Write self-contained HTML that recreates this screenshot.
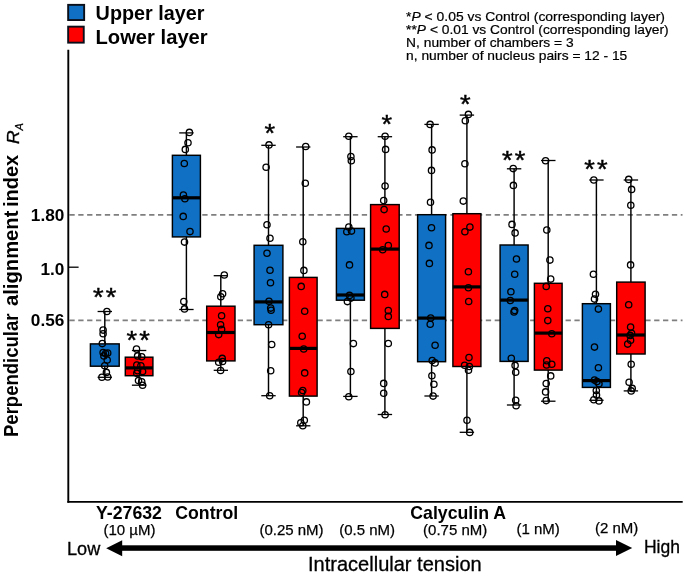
<!DOCTYPE html>
<html><head><meta charset="utf-8"><title>chart</title>
<style>
html,body{margin:0;padding:0;background:#fff;}
body{width:685px;height:578px;overflow:hidden;font-family:"Liberation Sans",sans-serif;}
svg{display:block;will-change:transform;}
text{font-family:"Liberation Sans",sans-serif;fill:#000;}
.b{font-weight:bold;}
</style></head><body>
<svg width="685" height="578" viewBox="0 0 685 578">
<rect width="685" height="578" fill="#fff"/>

<g stroke="#7f7f7f" stroke-width="1.7" stroke-dasharray="5.3 3.56" fill="none">
<line x1="69.4" y1="214.9" x2="682.5" y2="214.9"/>
<line x1="69.4" y1="320.3" x2="682.5" y2="320.3"/>
</g>
<g stroke="#000" stroke-width="1.5" fill="none">
<line x1="68.3" y1="49.8" x2="68.3" y2="502.8" stroke-width="1.9"/>
<line x1="67.4" y1="501.85" x2="682.7" y2="501.85" stroke-width="1.9"/>
<line x1="68" y1="267.2" x2="78.6" y2="267.2" stroke-width="1.3"/>
</g>
<g stroke="#000" stroke-width="1.45" fill="none">
<line x1="104.8" y1="311.5" x2="104.8" y2="343.9"/>
<line x1="104.8" y1="366.2" x2="104.8" y2="377.3"/>
<line x1="97.6" y1="311.5" x2="112.0" y2="311.5" stroke-width="1.3"/>
<line x1="97.6" y1="377.3" x2="112.0" y2="377.3" stroke-width="1.3"/>
<rect x="90.4" y="343.9" width="28.8" height="22.3" fill="#0F70C4"/>
</g>
<g stroke="#000" stroke-width="1.45" fill="none">
<line x1="139.1" y1="350.5" x2="139.1" y2="357.2"/>
<line x1="139.1" y1="375.7" x2="139.1" y2="385.2"/>
<line x1="131.9" y1="350.5" x2="146.3" y2="350.5" stroke-width="1.3"/>
<line x1="131.9" y1="385.2" x2="146.3" y2="385.2" stroke-width="1.3"/>
<rect x="125.3" y="357.2" width="27.6" height="18.5" fill="#FF0000"/>
<line x1="125.3" y1="367.9" x2="152.9" y2="367.9" stroke-width="3.2"/>
</g>
<g stroke="#000" stroke-width="1.45" fill="none">
<line x1="186.4" y1="132.9" x2="186.4" y2="155.3"/>
<line x1="186.4" y1="236.9" x2="186.4" y2="309.5"/>
<line x1="179.2" y1="132.9" x2="193.6" y2="132.9" stroke-width="1.3"/>
<line x1="179.2" y1="309.5" x2="193.6" y2="309.5" stroke-width="1.3"/>
<rect x="172.4" y="155.3" width="28.0" height="81.6" fill="#0F70C4"/>
<line x1="172.4" y1="197.8" x2="200.4" y2="197.8" stroke-width="3.2"/>
</g>
<g stroke="#000" stroke-width="1.45" fill="none">
<line x1="220.8" y1="275.7" x2="220.8" y2="306.2"/>
<line x1="220.8" y1="360.9" x2="220.8" y2="370.3"/>
<line x1="213.7" y1="275.7" x2="228.0" y2="275.7" stroke-width="1.3"/>
<line x1="213.7" y1="370.3" x2="228.0" y2="370.3" stroke-width="1.3"/>
<rect x="206.7" y="306.2" width="28.3" height="54.7" fill="#FF0000"/>
<line x1="206.7" y1="332.5" x2="235.0" y2="332.5" stroke-width="3.2"/>
</g>
<g stroke="#000" stroke-width="1.45" fill="none">
<line x1="268.5" y1="145.3" x2="268.5" y2="245.3"/>
<line x1="268.5" y1="324.7" x2="268.5" y2="395.7"/>
<line x1="261.3" y1="145.3" x2="275.7" y2="145.3" stroke-width="1.3"/>
<line x1="261.3" y1="395.7" x2="275.7" y2="395.7" stroke-width="1.3"/>
<rect x="254.1" y="245.3" width="28.8" height="79.4" fill="#0F70C4"/>
<line x1="254.1" y1="301.9" x2="282.9" y2="301.9" stroke-width="3.2"/>
</g>
<g stroke="#000" stroke-width="1.45" fill="none">
<line x1="303.2" y1="147.0" x2="303.2" y2="277.4"/>
<line x1="303.2" y1="396.1" x2="303.2" y2="425.8"/>
<line x1="296.1" y1="147.0" x2="310.4" y2="147.0" stroke-width="1.3"/>
<line x1="296.1" y1="425.8" x2="310.4" y2="425.8" stroke-width="1.3"/>
<rect x="289.4" y="277.4" width="27.7" height="118.7" fill="#FF0000"/>
<line x1="289.4" y1="348.4" x2="317.1" y2="348.4" stroke-width="3.2"/>
</g>
<g stroke="#000" stroke-width="1.45" fill="none">
<line x1="350.4" y1="136.7" x2="350.4" y2="228.4"/>
<line x1="350.4" y1="300.2" x2="350.4" y2="396.4"/>
<line x1="343.2" y1="136.7" x2="357.6" y2="136.7" stroke-width="1.3"/>
<line x1="343.2" y1="396.4" x2="357.6" y2="396.4" stroke-width="1.3"/>
<rect x="336.4" y="228.4" width="28.0" height="71.8" fill="#0F70C4"/>
<line x1="336.4" y1="295.0" x2="364.4" y2="295.0" stroke-width="3.2"/>
</g>
<g stroke="#000" stroke-width="1.45" fill="none">
<line x1="384.9" y1="136.7" x2="384.9" y2="204.6"/>
<line x1="384.9" y1="328.4" x2="384.9" y2="414.5"/>
<line x1="377.7" y1="136.7" x2="392.1" y2="136.7" stroke-width="1.3"/>
<line x1="377.7" y1="414.5" x2="392.1" y2="414.5" stroke-width="1.3"/>
<rect x="370.6" y="204.6" width="28.6" height="123.8" fill="#FF0000"/>
<line x1="370.6" y1="249.1" x2="399.2" y2="249.1" stroke-width="3.2"/>
</g>
<g stroke="#000" stroke-width="1.45" fill="none">
<line x1="431.6" y1="124.4" x2="431.6" y2="214.7"/>
<line x1="431.6" y1="361.7" x2="431.6" y2="396.0"/>
<line x1="424.4" y1="124.4" x2="438.8" y2="124.4" stroke-width="1.3"/>
<line x1="424.4" y1="396.0" x2="438.8" y2="396.0" stroke-width="1.3"/>
<rect x="417.6" y="214.7" width="28.0" height="147.0" fill="#0F70C4"/>
<line x1="417.6" y1="318.1" x2="445.6" y2="318.1" stroke-width="3.2"/>
</g>
<g stroke="#000" stroke-width="1.45" fill="none">
<line x1="466.9" y1="115.1" x2="466.9" y2="213.7"/>
<line x1="466.9" y1="366.5" x2="466.9" y2="432.3"/>
<line x1="459.7" y1="115.1" x2="474.1" y2="115.1" stroke-width="1.3"/>
<line x1="459.7" y1="432.3" x2="474.1" y2="432.3" stroke-width="1.3"/>
<rect x="452.9" y="213.7" width="28.0" height="152.8" fill="#FF0000"/>
<line x1="452.9" y1="286.9" x2="480.9" y2="286.9" stroke-width="3.2"/>
</g>
<g stroke="#000" stroke-width="1.45" fill="none">
<line x1="514.1" y1="168.8" x2="514.1" y2="245.0"/>
<line x1="514.1" y1="361.4" x2="514.1" y2="405.0"/>
<line x1="506.9" y1="168.8" x2="521.3" y2="168.8" stroke-width="1.3"/>
<line x1="506.9" y1="405.0" x2="521.3" y2="405.0" stroke-width="1.3"/>
<rect x="500.1" y="245.0" width="28.0" height="116.4" fill="#0F70C4"/>
<line x1="500.1" y1="300.1" x2="528.1" y2="300.1" stroke-width="3.2"/>
</g>
<g stroke="#000" stroke-width="1.45" fill="none">
<line x1="548.2" y1="160.5" x2="548.2" y2="283.3"/>
<line x1="548.2" y1="370.1" x2="548.2" y2="401.2"/>
<line x1="541.0" y1="160.5" x2="555.5" y2="160.5" stroke-width="1.3"/>
<line x1="541.0" y1="401.2" x2="555.5" y2="401.2" stroke-width="1.3"/>
<rect x="534.4" y="283.3" width="27.7" height="86.8" fill="#FF0000"/>
<line x1="534.4" y1="333.1" x2="562.1" y2="333.1" stroke-width="3.2"/>
</g>
<g stroke="#000" stroke-width="1.45" fill="none">
<line x1="596.4" y1="180.0" x2="596.4" y2="303.7"/>
<line x1="596.4" y1="387.4" x2="596.4" y2="400.3"/>
<line x1="589.2" y1="180.0" x2="603.6" y2="180.0" stroke-width="1.3"/>
<line x1="589.2" y1="400.3" x2="603.6" y2="400.3" stroke-width="1.3"/>
<rect x="582.4" y="303.7" width="28.0" height="83.7" fill="#0F70C4"/>
<line x1="582.4" y1="380.6" x2="610.4" y2="380.6" stroke-width="3.2"/>
</g>
<g stroke="#000" stroke-width="1.45" fill="none">
<line x1="630.9" y1="180.0" x2="630.9" y2="282.1"/>
<line x1="630.9" y1="354.0" x2="630.9" y2="390.9"/>
<line x1="623.7" y1="180.0" x2="638.1" y2="180.0" stroke-width="1.3"/>
<line x1="623.7" y1="390.9" x2="638.1" y2="390.9" stroke-width="1.3"/>
<rect x="616.7" y="282.1" width="28.4" height="71.9" fill="#FF0000"/>
<line x1="616.7" y1="335.0" x2="645.1" y2="335.0" stroke-width="3.2"/>
</g>
<g stroke="#000" stroke-width="1.3" fill="none">
<circle cx="106.9" cy="311.5" r="3.15"/>
<circle cx="103.1" cy="330.1" r="3.15"/>
<circle cx="103.1" cy="333.7" r="3.15"/>
<circle cx="102.3" cy="343.6" r="3.15"/>
<circle cx="103.1" cy="352.6" r="3.15"/>
<circle cx="105.6" cy="353.5" r="3.15"/>
<circle cx="103.9" cy="355.9" r="3.15"/>
<circle cx="107.7" cy="353" r="3.15"/>
<circle cx="107.2" cy="360" r="3.15"/>
<circle cx="104.7" cy="365.8" r="3.15"/>
<circle cx="106.4" cy="372.4" r="3.15"/>
<circle cx="101.9" cy="377.3" r="3.15"/>
<circle cx="107.7" cy="377" r="3.15"/>
<circle cx="136.5" cy="349" r="3.15"/>
<circle cx="137.6" cy="355.9" r="3.15"/>
<circle cx="141.7" cy="356.7" r="3.15"/>
<circle cx="136.8" cy="365" r="3.15"/>
<circle cx="140.9" cy="365.8" r="3.15"/>
<circle cx="137.6" cy="370.7" r="3.15"/>
<circle cx="142.6" cy="371.5" r="3.15"/>
<circle cx="136.8" cy="373.2" r="3.15"/>
<circle cx="138.5" cy="380.6" r="3.15"/>
<circle cx="141.7" cy="381.7" r="3.15"/>
<circle cx="142.6" cy="385.2" r="3.15"/>
<circle cx="189.4" cy="132.4" r="3.15"/>
<circle cx="188" cy="142.8" r="3.15"/>
<circle cx="185.3" cy="149.4" r="3.15"/>
<circle cx="184.3" cy="163.5" r="3.15"/>
<circle cx="183.4" cy="195" r="3.15"/>
<circle cx="184.9" cy="198.8" r="3.15"/>
<circle cx="183.2" cy="216.4" r="3.15"/>
<circle cx="190" cy="231.6" r="3.15"/>
<circle cx="184.5" cy="242.1" r="3.15"/>
<circle cx="183.8" cy="301.6" r="3.15"/>
<circle cx="184.5" cy="308.9" r="3.15"/>
<circle cx="224.3" cy="275" r="3.15"/>
<circle cx="222.6" cy="293.7" r="3.15"/>
<circle cx="220.8" cy="296.8" r="3.15"/>
<circle cx="221.6" cy="315.7" r="3.15"/>
<circle cx="220.6" cy="324.8" r="3.15"/>
<circle cx="221.6" cy="329.4" r="3.15"/>
<circle cx="218.7" cy="334.6" r="3.15"/>
<circle cx="222.2" cy="358.4" r="3.15"/>
<circle cx="218.7" cy="362.2" r="3.15"/>
<circle cx="222.6" cy="361.5" r="3.15"/>
<circle cx="220.6" cy="370.5" r="3.15"/>
<circle cx="269" cy="144.9" r="3.15"/>
<circle cx="266.1" cy="167.3" r="3.15"/>
<circle cx="267" cy="224.7" r="3.15"/>
<circle cx="270" cy="238.2" r="3.15"/>
<circle cx="267" cy="253.2" r="3.15"/>
<circle cx="270" cy="270.2" r="3.15"/>
<circle cx="270.5" cy="282.8" r="3.15"/>
<circle cx="269" cy="301.3" r="3.15"/>
<circle cx="270.7" cy="308.1" r="3.15"/>
<circle cx="271.1" cy="310.2" r="3.15"/>
<circle cx="268.6" cy="324.7" r="3.15"/>
<circle cx="271.7" cy="344.5" r="3.15"/>
<circle cx="270.7" cy="370.8" r="3.15"/>
<circle cx="269.7" cy="395.7" r="3.15"/>
<circle cx="305.7" cy="146.5" r="3.15"/>
<circle cx="305.3" cy="183.3" r="3.15"/>
<circle cx="302.8" cy="241.8" r="3.15"/>
<circle cx="303.9" cy="270.4" r="3.15"/>
<circle cx="301.2" cy="286.4" r="3.15"/>
<circle cx="304.7" cy="311.2" r="3.15"/>
<circle cx="302.2" cy="336.2" r="3.15"/>
<circle cx="303.7" cy="349" r="3.15"/>
<circle cx="304.7" cy="372.9" r="3.15"/>
<circle cx="302.8" cy="390.5" r="3.15"/>
<circle cx="301.6" cy="392.6" r="3.15"/>
<circle cx="306.4" cy="401.9" r="3.15"/>
<circle cx="304.3" cy="420.2" r="3.15"/>
<circle cx="300.8" cy="422.7" r="3.15"/>
<circle cx="302.8" cy="425.8" r="3.15"/>
<circle cx="348.8" cy="136.3" r="3.15"/>
<circle cx="350.9" cy="156.6" r="3.15"/>
<circle cx="351.3" cy="160.8" r="3.15"/>
<circle cx="348.8" cy="227" r="3.15"/>
<circle cx="346.8" cy="231.7" r="3.15"/>
<circle cx="351.5" cy="231.1" r="3.15"/>
<circle cx="349.5" cy="264.9" r="3.15"/>
<circle cx="349.5" cy="295.4" r="3.15"/>
<circle cx="350.9" cy="298.1" r="3.15"/>
<circle cx="347.4" cy="301.6" r="3.15"/>
<circle cx="353.4" cy="343.6" r="3.15"/>
<circle cx="350.9" cy="371.5" r="3.15"/>
<circle cx="348.8" cy="396.8" r="3.15"/>
<circle cx="385.1" cy="136.3" r="3.15"/>
<circle cx="385.6" cy="149.4" r="3.15"/>
<circle cx="385.1" cy="186.1" r="3.15"/>
<circle cx="383.7" cy="200.6" r="3.15"/>
<circle cx="384.1" cy="209.6" r="3.15"/>
<circle cx="386.2" cy="229" r="3.15"/>
<circle cx="388.3" cy="245.6" r="3.15"/>
<circle cx="382.7" cy="249.8" r="3.15"/>
<circle cx="384.7" cy="294.4" r="3.15"/>
<circle cx="388.3" cy="310.6" r="3.15"/>
<circle cx="388.3" cy="316.4" r="3.15"/>
<circle cx="388.3" cy="343.5" r="3.15"/>
<circle cx="383.7" cy="383.4" r="3.15"/>
<circle cx="383.7" cy="393.3" r="3.15"/>
<circle cx="385.1" cy="414.7" r="3.15"/>
<circle cx="430.1" cy="124.4" r="3.15"/>
<circle cx="432.1" cy="149.9" r="3.15"/>
<circle cx="431.5" cy="170.4" r="3.15"/>
<circle cx="430.5" cy="202.2" r="3.15"/>
<circle cx="431.5" cy="227.8" r="3.15"/>
<circle cx="429" cy="245.4" r="3.15"/>
<circle cx="429.4" cy="263.4" r="3.15"/>
<circle cx="430.7" cy="318.1" r="3.15"/>
<circle cx="430.2" cy="324.2" r="3.15"/>
<circle cx="435.1" cy="345.2" r="3.15"/>
<circle cx="432.2" cy="360.5" r="3.15"/>
<circle cx="435.1" cy="362.9" r="3.15"/>
<circle cx="431.9" cy="375.7" r="3.15"/>
<circle cx="433.9" cy="384.2" r="3.15"/>
<circle cx="433.1" cy="396.1" r="3.15"/>
<circle cx="468.4" cy="114.4" r="3.15"/>
<circle cx="465.3" cy="120.7" r="3.15"/>
<circle cx="464.9" cy="163.8" r="3.15"/>
<circle cx="463.3" cy="201.1" r="3.15"/>
<circle cx="469.9" cy="227.1" r="3.15"/>
<circle cx="464.9" cy="231.7" r="3.15"/>
<circle cx="468.4" cy="271.7" r="3.15"/>
<circle cx="468.4" cy="287.7" r="3.15"/>
<circle cx="468.7" cy="301.5" r="3.15"/>
<circle cx="469" cy="357.6" r="3.15"/>
<circle cx="464.6" cy="365.3" r="3.15"/>
<circle cx="469.4" cy="366.5" r="3.15"/>
<circle cx="468.5" cy="370.2" r="3.15"/>
<circle cx="467" cy="420.3" r="3.15"/>
<circle cx="469.7" cy="432.4" r="3.15"/>
<circle cx="513.2" cy="168.6" r="3.15"/>
<circle cx="513.4" cy="185.4" r="3.15"/>
<circle cx="512" cy="224.4" r="3.15"/>
<circle cx="515.1" cy="232.9" r="3.15"/>
<circle cx="516.5" cy="259" r="3.15"/>
<circle cx="514.7" cy="274.2" r="3.15"/>
<circle cx="510.9" cy="291.8" r="3.15"/>
<circle cx="510.3" cy="300.5" r="3.15"/>
<circle cx="514.7" cy="310.5" r="3.15"/>
<circle cx="514" cy="311.9" r="3.15"/>
<circle cx="511.3" cy="358.3" r="3.15"/>
<circle cx="515.1" cy="365.4" r="3.15"/>
<circle cx="515.7" cy="372.2" r="3.15"/>
<circle cx="515.7" cy="400.2" r="3.15"/>
<circle cx="516.1" cy="405.8" r="3.15"/>
<circle cx="545.6" cy="160.7" r="3.15"/>
<circle cx="546.8" cy="230" r="3.15"/>
<circle cx="549.9" cy="260.1" r="3.15"/>
<circle cx="550.7" cy="279.1" r="3.15"/>
<circle cx="546.2" cy="286.4" r="3.15"/>
<circle cx="547.8" cy="308.8" r="3.15"/>
<circle cx="547.8" cy="320.6" r="3.15"/>
<circle cx="551.8" cy="333.7" r="3.15"/>
<circle cx="546.8" cy="360.8" r="3.15"/>
<circle cx="551.8" cy="364.3" r="3.15"/>
<circle cx="546.6" cy="365" r="3.15"/>
<circle cx="550.7" cy="375.9" r="3.15"/>
<circle cx="546.2" cy="383.6" r="3.15"/>
<circle cx="545.6" cy="391.9" r="3.15"/>
<circle cx="546.2" cy="400.6" r="3.15"/>
<circle cx="593.8" cy="180" r="3.15"/>
<circle cx="593.4" cy="274.2" r="3.15"/>
<circle cx="595.5" cy="294.3" r="3.15"/>
<circle cx="594.5" cy="299.1" r="3.15"/>
<circle cx="598.4" cy="309.1" r="3.15"/>
<circle cx="594.5" cy="347.1" r="3.15"/>
<circle cx="598.4" cy="367.7" r="3.15"/>
<circle cx="594.5" cy="380.1" r="3.15"/>
<circle cx="597" cy="381.6" r="3.15"/>
<circle cx="599" cy="383.7" r="3.15"/>
<circle cx="596.3" cy="390.5" r="3.15"/>
<circle cx="596.5" cy="395.1" r="3.15"/>
<circle cx="593.8" cy="399.8" r="3.15"/>
<circle cx="599" cy="400.9" r="3.15"/>
<circle cx="628.7" cy="179.4" r="3.15"/>
<circle cx="631.6" cy="189.4" r="3.15"/>
<circle cx="630.8" cy="205.3" r="3.15"/>
<circle cx="630.6" cy="264.9" r="3.15"/>
<circle cx="628.7" cy="304.7" r="3.15"/>
<circle cx="630.6" cy="327.1" r="3.15"/>
<circle cx="631.6" cy="333.3" r="3.15"/>
<circle cx="630.1" cy="335.4" r="3.15"/>
<circle cx="630.6" cy="340.2" r="3.15"/>
<circle cx="627.7" cy="344.1" r="3.15"/>
<circle cx="631.2" cy="364.2" r="3.15"/>
<circle cx="629.1" cy="382.2" r="3.15"/>
<circle cx="632.2" cy="388.4" r="3.15"/>
<circle cx="631.2" cy="390.9" r="3.15"/>
</g>
<g font-size="25.5" text-anchor="middle" stroke="#000" stroke-width="0.45">
<text transform="translate(98.4,305.5) scale(1.07,1)">*</text>
<text transform="translate(111.0,305.5) scale(1.07,1)">*</text>
<text transform="translate(131.7,348.9) scale(1.07,1)">*</text>
<text transform="translate(144.5,348.9) scale(1.07,1)">*</text>
<text transform="translate(269.8,142.0) scale(1.07,1)">*</text>
<text transform="translate(386.7,133.2) scale(1.07,1)">*</text>
<text transform="translate(465.4,113.0) scale(1.07,1)">*</text>
<text transform="translate(507.2,168.5) scale(1.07,1)">*</text>
<text transform="translate(520.1,168.5) scale(1.07,1)">*</text>
<text transform="translate(589.6,177.5) scale(1.07,1)">*</text>
<text transform="translate(602.3,177.5) scale(1.07,1)">*</text>
</g>
<rect x="68.15" y="4.85" width="16.0" height="15.2" fill="#0F70C4" stroke="#0a0f1a" stroke-width="1.9"/>
<rect x="68.15" y="26.65" width="15.6" height="16.0" fill="#FF0000" stroke="#0a0f1a" stroke-width="1.9"/>
<text class="b" transform="translate(95.6,19.9) scale(0.98,1)" font-size="20.2">Upper layer</text>
<text class="b" transform="translate(95.5,43.5) scale(1.0,1)" font-size="20.2">Lower layer</text>
<g font-size="12.5" stroke="#000" stroke-width="0.2">
<text transform="translate(406.1,20.8) scale(1.111,1)">*<tspan font-style="italic">P</tspan> &lt; 0.05 vs Control (corresponding layer)</text>
<text transform="translate(406.1,33.6) scale(1.104,1)">**<tspan font-style="italic">P</tspan> &lt; 0.01 vs Control (corresponding layer)</text>
<text transform="translate(406.1,46.8) scale(1.104,1)">N, number of chambers = 3</text>
<text transform="translate(406.1,59.7) scale(1.104,1)">n, number of nucleus pairs = 12 - 15</text>
</g>
<g class="b" font-size="17.2" text-anchor="end">
<text x="64.3" y="221.4">1.80</text>
<text x="64.3" y="274.5">1.0</text>
<text x="64.3" y="326.4">0.56</text>
</g>
<g transform="translate(18.3,436.8) rotate(-90)">
<g class="b" font-size="19.6" lengthAdjust="spacingAndGlyphs">
<text x="-0.2" y="0" textLength="123.4" lengthAdjust="spacingAndGlyphs">Perpendicular</text>
<text x="130.8" y="0" textLength="95.4" lengthAdjust="spacingAndGlyphs">alignment</text>
<text x="229.7" y="0" textLength="52.4" lengthAdjust="spacingAndGlyphs">index</text>
</g>
<text x="0" y="0.8" font-size="17.4" font-style="italic" stroke="#000" stroke-width="0.35" transform="translate(292.9,0) scale(1.08,1)">R</text>
<text x="306.2" y="4.8" font-size="11" font-style="italic" stroke="#000" stroke-width="0.25">A</text>
</g>
<g class="b" font-size="17.7">
<text x="96.0" y="519.0">Y-27632</text>
<text x="175.3" y="519.0">Control</text>
<text x="410.3" y="518.6">Calyculin A</text>
</g>
<g font-size="15" stroke="#000" stroke-width="0.25">
<text x="103.4" y="535.2">(10 µM)</text>
<text x="259.4" y="534.6">(0.25 nM)</text>
<text x="339.2" y="534.6">(0.5 nM)</text>
<text x="423.1" y="534.6">(0.75 nM)</text>
<text x="516.5" y="533.7">(1 nM)</text>
<text x="595" y="533">(2 nM)</text>
</g>
<rect x="120" y="545.3" width="498" height="5.5" fill="#000"/>
<polygon points="106.2,548.3 122.2,540.2 122.2,556.2" fill="#000"/>
<polygon points="632.2,548.0 616.0,540.0 616.0,556.1" fill="#000"/>
<text x="67" y="554.7" font-size="18.1" stroke="#000" stroke-width="0.3">Low</text>
<text x="643.9" y="553" font-size="17.5" stroke="#000" stroke-width="0.3">High</text>
<text x="308" y="570.6" font-size="20.05" stroke="#000" stroke-width="0.3">Intracellular tension</text>
</svg></body></html>
